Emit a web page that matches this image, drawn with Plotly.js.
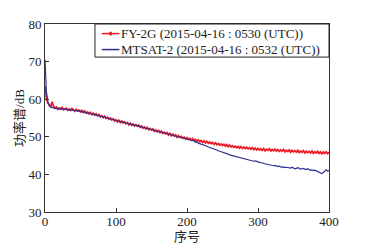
<!DOCTYPE html>
<html><head><meta charset="utf-8">
<script src="https://cdn.plot.ly/plotly-3.0.1.min.js"></script>
<style>html,body{margin:0;padding:0;background:#fff;}#c{width:366px;height:249px;}</style>
</head><body><div id="c"></div>
<script>
const seriesNames = ['FY-2G (2015-04-16 : 0530 (UTC))', 'MTSAT-2 (2015-04-16 : 0532 (UTC))'];
const seriesColors = ['#ec1c24', '#2e3192'];
const startIndex = 0;
const indexStep = 2;
const fy2g = [63.5,60.2,59.0,58.4,58.0,59.3,58.1,57.6,57.9,57.3,57.7,57.4,57.8,57.2,57.5,57.6,57.1,57.4,57.0,57.5,
57.2,56.8,57.3,56.9,57.1,56.6,57.0,56.5,56.9,56.3,56.6,56.1,56.5,55.9,56.3,55.8,56.1,55.6,55.9,55.3,
55.6,55.1,55.5,54.9,55.2,54.7,55.0,54.5,54.8,54.2,54.5,54.0,54.4,53.8,54.2,53.7,54.0,53.5,53.8,53.2,
53.6,53.1,53.4,52.9,53.2,52.8,53.1,52.5,52.9,52.3,52.6,52.1,52.5,51.9,52.2,51.8,52.1,51.5,51.8,51.3,
51.7,51.1,51.5,50.9,51.2,50.8,51.1,50.5,50.9,50.3,50.7,50.2,50.5,49.9,50.3,49.8,50.1,49.6,49.9,49.4,
49.8,49.3,49.6,49.1,49.5,49.0,49.3,48.8,49.2,48.7,49.0,48.5,48.9,48.4,48.8,48.3,48.6,48.2,48.5,48.0,
48.4,47.9,48.2,47.8,48.1,47.7,48.0,47.5,47.9,47.4,47.8,47.3,47.6,47.2,47.5,47.1,47.4,47.0,47.4,46.9,
47.3,46.9,47.2,46.8,47.1,46.7,47.1,46.6,47.0,46.5,
46.9,46.5,46.8,46.4,46.9,46.3,46.7,46.4,46.8,46.2,46.6,46.3,46.7,46.2,46.6,46.1,46.5,46.2,46.6,46.0,
46.4,46.1,46.5,45.9,46.4,46.0,46.3,45.9,46.4,45.8,46.2,45.9,46.3,45.7,46.2,45.8,46.1,45.7,46.2,45.6,
46.0,45.7,46.1,45.6,46.0,45.5,46.0,45.6,46.0,45.5,45.9];
const mtsat2 = [70.5,62.0,59.3,58.3,57.9,57.8,57.6,57.7,57.5,57.6,57.4,57.5,57.3,57.4,57.3,57.2,57.3,57.1,57.2,57.0,
57.1,56.9,57.0,56.8,56.9,56.7,56.7,56.5,56.6,56.3,56.4,56.2,56.2,56.0,56.0,55.8,55.9,55.6,55.7,55.4,
55.4,55.2,55.3,55.0,55.0,54.8,54.8,54.6,54.6,54.4,54.4,54.2,54.2,54.0,54.0,53.8,53.9,53.6,53.6,53.4,
53.5,53.2,53.3,53.0,53.1,52.9,52.8,52.7,52.6,52.5,52.5,52.3,52.3,52.1,52.1,51.9,51.9,51.7,51.7,51.5,
51.5,51.3,51.3,51.1,51.1,50.9,50.9,50.7,50.6,50.5,50.5,50.3,50.2,50.1,50.0,49.9,49.8,49.8,49.6,49.5,
49.5,49.3,49.3,49.1,49.0,48.9,48.6,48.6,48.3,48.2,48.0,47.9,47.8,47.6,47.5,47.3,47.2,47.0,46.9,46.8,
46.6,46.5,46.3,46.2,46.0,45.9,45.8,45.6,45.5,45.4,45.2,45.1,45.0,44.8,44.7,44.6,44.5,44.5,44.3,44.2,
44.2,44.0,43.9,43.9,43.7,43.8,43.6,43.5,43.6,43.4,43.4,43.2,43.1,43.1,42.9,42.8,42.7,42.6,42.7,42.5,
42.4,42.3,42.4,42.2,42.1,42.2,42.0,41.9,42.0,41.8,41.9,41.8,41.6,41.7,41.9,41.7,41.5,41.6,41.8,41.6,
41.4,41.5,41.6,41.4,41.3,41.5,41.3,41.1,41.2,41.0,41.1,40.9,40.7,40.5,40.3,40.2,40.5,41.0,41.2,40.9,41.0];
const xTicks = [0,100,200,300,400];
const yTicks = [30,40,50,60,70,80];

const serif = 'Liberation Serif, Times New Roman, Noto Sans CJK SC, serif';
const traces = [
  {y: fy2g, x0: startIndex, dx: indexStep, name: seriesNames[0], type: 'scatter', mode: 'lines',
   line: {color: seriesColors[0], width: 1.8}},
  {y: mtsat2, x0: startIndex, dx: indexStep, name: seriesNames[1], type: 'scatter', mode: 'lines',
   line: {color: seriesColors[1], width: 1.2}}
];

// hand-drawn legend box (paper coordinates), compact like the reference
const legX0 = 0.176, legYB = 0.824;
const rowY = [0.949, 0.864];
const shapes = [
  {type: 'rect', xref: 'paper', yref: 'paper', x0: legX0, x1: 1, y0: legYB, y1: 1,
   line: {color: '#222', width: 1}, fillcolor: '#fff', layer: 'above'}
];
const annotations = [];
seriesNames.forEach((n, i) => {
  shapes.push({type: 'line', xref: 'paper', yref: 'paper', x0: 0.2, x1: 0.262, y0: rowY[i], y1: rowY[i],
    line: {color: seriesColors[i], width: 1.5}, layer: 'above'});
  annotations.push({text: n, xref: 'paper', yref: 'paper', x: 0.262, y: rowY[i], xanchor: 'left', yanchor: 'middle',
    showarrow: false, font: {family: serif, size: 13, color: '#222'}});
});
shapes.push({type: 'circle', xref: 'paper', yref: 'paper', x0: 0.227, x1: 0.235, y0: rowY[0] - 0.009, y1: rowY[0] + 0.009,
  line: {color: seriesColors[0], width: 1}, fillcolor: seriesColors[0], layer: 'above'});

const axisCommon = {showline: true, mirror: true, linecolor: '#333', linewidth: 1, ticks: 'inside', ticklen: 4,
  tickcolor: '#333', showgrid: false, zeroline: false, tickfont: {family: serif, size: 13, color: '#222'}};
const layout = {
  width: 366, height: 249,
  margin: {l: 45, r: 37, t: 24, b: 37},
  paper_bgcolor: '#fff', plot_bgcolor: '#fff',
  showlegend: false,
  shapes: shapes,
  annotations: annotations,
  xaxis: Object.assign({}, axisCommon, {range: [0, 400], tickvals: xTicks, ticklabelstandoff: -3,
    title: {text: '序号', font: {family: serif, size: 13, color: '#222'}, standoff: 0}}),
  yaxis: Object.assign({}, axisCommon, {range: [30, 80], tickvals: yTicks,
    title: {text: '功率谱/dB', font: {family: serif, size: 13, color: '#222'}, standoff: 0}})
};
Plotly.newPlot('c', traces, layout, {displayModeBar: false, staticPlot: true});
</script></body></html>
